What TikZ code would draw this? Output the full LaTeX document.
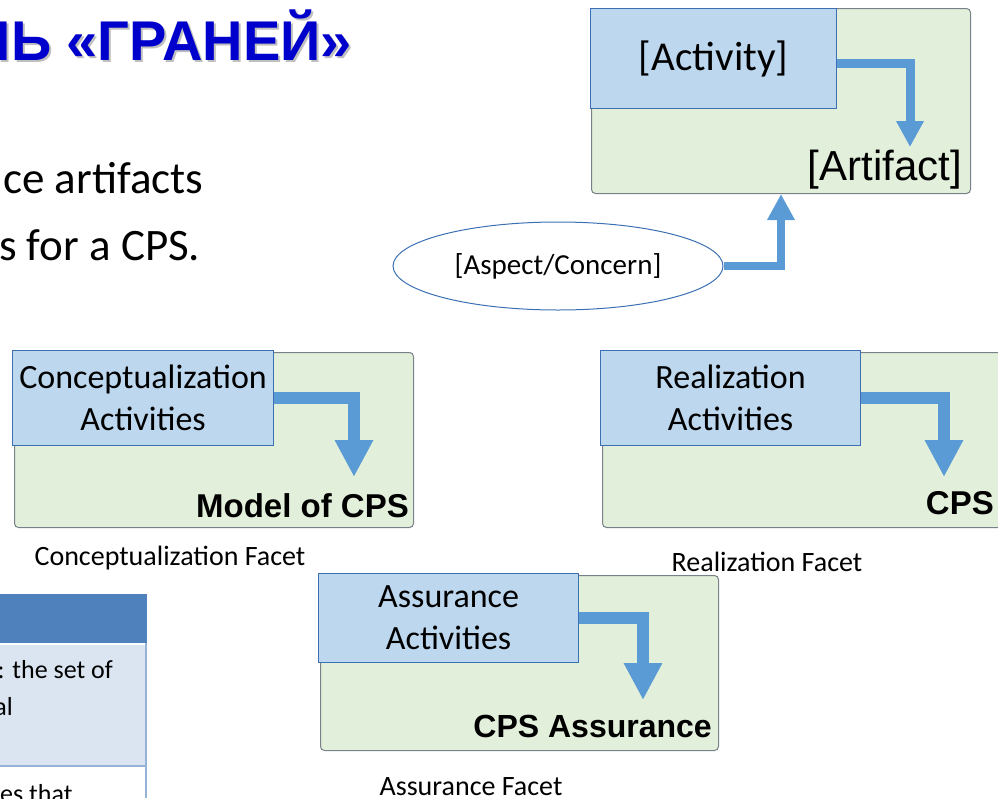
\documentclass[tikz,border=0pt]{standalone}
\usepackage{fontspec}
\setmainfont{Carlito}
\newfontfamily\arialfont{Liberation Sans}
\usetikzlibrary{arrows.meta,shapes.geometric}

\definecolor{facetgreen}{RGB}{226,239,218}
\definecolor{facetedge}{RGB}{120,128,136}
\definecolor{actblue}{RGB}{189,215,238}
\definecolor{actedge}{RGB}{60,112,180}
\definecolor{flowblue}{RGB}{91,155,213}
\definecolor{titleblue}{RGB}{0,0,204}
\definecolor{tabhead}{RGB}{79,129,189}
\definecolor{tabrow}{RGB}{219,229,241}
\definecolor{tabline}{RGB}{149,179,215}

\begin{document}
\begin{tikzpicture}[x=1pt,y=-1pt,
  facet/.style={draw=facetedge,fill=facetgreen,rounded corners=4pt,line width=1pt,anchor=north west,inner sep=0pt},
  actbox/.style={draw=actedge,fill=actblue,line width=1.2pt,anchor=north west,align=center,inner sep=0pt,font=\fontsize{34}{42}\selectfont},
  artifact/.style={anchor=base east,inner sep=0pt,font=\arialfont\bfseries\fontsize{33}{36}\selectfont},
  caption/.style={inner sep=0pt,font=\fontsize{28}{32}\selectfont},
  flow/.style={draw=flowblue,line width=12pt,-{Triangle[width=36pt,length=37pt]}},
  smallflow/.style={draw=flowblue,line width=9pt,-{Triangle[width=26pt,length=26pt]}},
  title/.style={anchor=base east,inner sep=0pt,font=\arialfont\bfseries\fontsize{56}{60}\selectfont}]
  \pgfmathsetmacro\boxw{261}
  \pgfmathsetmacro\boxh{95}
  \pgfmathsetmacro\facw{399}
  \pgfmathsetmacro\fach{175}

  \useasboundingbox (0,0) rectangle (998,798);
  \clip (0,0) rectangle (998,798);

% slide title and text (cut at the left)
  \node[title,text=black!25] (titleshade) at (354,62) {ЛЬ «ГРАНЕЙ»};
  \node[title,text=titleblue] (titletext) at (352,60) {ЛЬ «ГРАНЕЙ»};
  \node[anchor=base west,inner sep=0pt,font=\fontsize{45}{50}\selectfont] (bodya) at (3,193) {ce artifacts};
  \node[anchor=base west,inner sep=0pt,font=\fontsize{45}{50}\selectfont] (bodyb) at (-1,260) {s for a CPS.};

% table at bottom left
  \fill[tabhead] (0,594) rectangle (147,643);
  \fill[tabrow] (0,645) rectangle (145,765);
  \draw[tabline,line width=2pt] (0,766) -- (146,766);
  \draw[tabline,line width=2pt] (146,643) -- (146,798);
  \node[anchor=base east,inner sep=0pt,font=\fontsize{26}{30}\selectfont] (rowa) at (113,678) {: the set of};
  \node[anchor=base east,inner sep=0pt,font=\fontsize{26}{30}\selectfont] (rowb) at (13,715) {al};
  \node[anchor=base west,inner sep=0pt,font=\fontsize{26}{30}\selectfont] (rowc) at (0,802) {es that};

% generic facet
  \node[facet,minimum width=379,minimum height=185] (topfacet) at (591,8) {};
  \node[actbox,minimum width=246,minimum height=100,font=\fontsize{41}{46}\selectfont] (act) at (590,8) {[Activity]};
  \node[anchor=base east,inner sep=0pt,font=\arialfont\fontsize{42}{46}\selectfont] (artf) at (962,180) {[Artifact]};
  \coordinate (arttip) at (910,147);
  \draw[smallflow] ([yshift=-5pt]act.east) -| (arttip);
  \node[ellipse,draw=actedge,line width=1pt,minimum width=330,minimum height=88,font=\fontsize{29}{32}\selectfont] (aspect) at (558,266) {[Aspect/Concern]};
  \draw[smallflow,line width=8pt] (aspect.east) -| (topfacet.south);

% conceptualization facet
  \node[facet,minimum width=\facw,minimum height=\fach] (confacet) at (14,352) {};
  \node[actbox,minimum width=\boxw,minimum height=\boxh] (conact) at (12,350) {Conceptualization\\Activities};
  \node[artifact] (conart) at (409,517) {Model of CPS};
  \coordinate (contip) at (354,477);
  \draw[flow] (conact.east) -| (contip);
  \node[caption] (concap) at (170,558) {Conceptualization Facet};

% realization facet
  \node[facet,minimum width=420,minimum height=\fach] (realfacet) at (602,352) {};
  \node[actbox,minimum width=260,minimum height=\boxh] (realact) at (600,350) {Realization\\Activities};
  \node[artifact] (realart) at (994,514) {CPS};
  \coordinate (realtip) at (944,477);
  \draw[flow] (realact.east) -| (realtip);
  \node[caption] (realcap) at (767,562) {Realization Facet};

% assurance facet
  \node[facet,minimum width=398,minimum height=\fach] (assfacet) at (320,575) {};
  \node[actbox,minimum width=260,minimum height=89] (assact) at (318,573) {Assurance\\Activities};
  \node[artifact,font=\arialfont\bfseries\fontsize{32}{36}\selectfont] (assart) at (712,737) {CPS Assurance};
  \coordinate (asstip) at (643,700);
  \draw[flow] (assact.east) -| (asstip);
  \node[caption] (asscap) at (471,787) {Assurance Facet};

\end{tikzpicture}
\end{document}
